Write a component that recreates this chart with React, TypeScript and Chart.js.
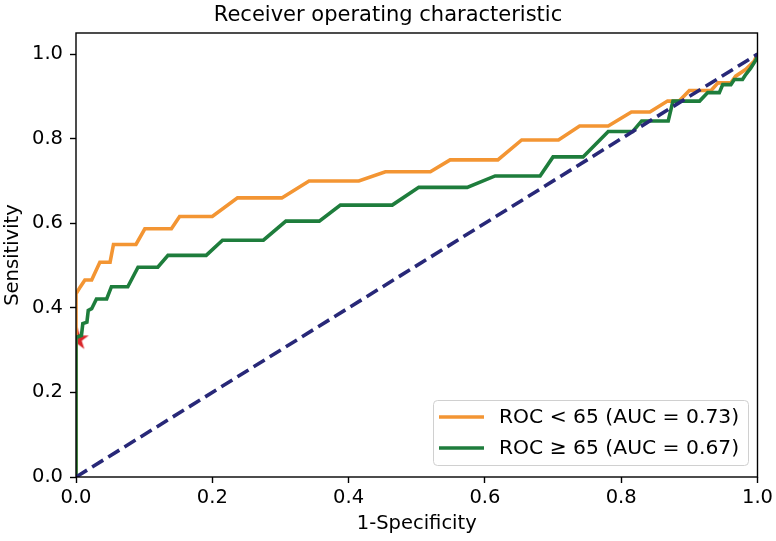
import React, { useEffect, useRef } from "react";
import { Chart, registerables } from "chart.js";

Chart.register(...registerables);

const TITLE = "Receiver operating characteristic";
const X_LABEL = "1-Specificity";
const Y_LABEL = "Sensitivity";
const X_TICKS = [0, 0.2, 0.4, 0.6, 0.8, 1.0];
const Y_TICKS = [0, 0.2, 0.4, 0.6, 0.8, 1.0];

const LABEL_UNDER = "ROC < 65 (AUC = 0.73)";
const LABEL_OVER = "ROC \u2265 65 (AUC = 0.67)";

const underX = [0, 0, 0.006, 0.013, 0.023, 0.035, 0.05, 0.055, 0.088, 0.101, 0.14, 0.152, 0.2, 0.237, 0.302, 0.342, 0.415, 0.454, 0.52, 0.549, 0.619, 0.654, 0.708, 0.739, 0.781, 0.815, 0.842, 0.868, 0.885, 0.9, 0.932, 0.942, 0.961, 0.968, 0.983, 0.995, 1];
const underY = [0, 0.433, 0.449, 0.466, 0.466, 0.508, 0.508, 0.55, 0.55, 0.587, 0.587, 0.616, 0.616, 0.66, 0.66, 0.7, 0.7, 0.722, 0.722, 0.75, 0.75, 0.797, 0.797, 0.83, 0.83, 0.863, 0.863, 0.889, 0.889, 0.914, 0.914, 0.932, 0.932, 0.948, 0.964, 0.983, 1];

const overX = [0, 0, 0.008, 0.01, 0.016, 0.018, 0.023, 0.03, 0.045, 0.052, 0.076, 0.091, 0.12, 0.135, 0.191, 0.215, 0.275, 0.308, 0.357, 0.388, 0.464, 0.503, 0.574, 0.615, 0.681, 0.7, 0.744, 0.781, 0.817, 0.83, 0.869, 0.876, 0.915, 0.927, 0.944, 0.949, 0.961, 0.966, 0.978, 0.982, 0.99, 0.998, 1];
const overY = [0, 0.33, 0.335, 0.363, 0.366, 0.394, 0.398, 0.421, 0.421, 0.45, 0.45, 0.496, 0.496, 0.524, 0.524, 0.56, 0.56, 0.605, 0.605, 0.643, 0.643, 0.685, 0.685, 0.712, 0.712, 0.757, 0.757, 0.817, 0.817, 0.842, 0.842, 0.889, 0.889, 0.909, 0.909, 0.928, 0.928, 0.94, 0.94, 0.95, 0.967, 0.987, 1];

const chanceX = [0, 1];
const chanceY = [0, 1];

const starX = [0.002];
const starY = [0.328];

const ORANGE = "#f39533";
const GREEN = "#1e7d3c";
const NAVY = "#282878";
const RED = "#d9262a";
const FONT = "'DejaVu Sans', sans-serif";

const zip = (xs: number[], ys: number[]) => xs.map((x, i) => ({ x, y: ys[i] }));

function makeStar(): HTMLCanvasElement {
  const c = document.createElement("canvas");
  c.width = 28;
  c.height = 28;
  const g = c.getContext("2d")!;
  const R = 12;
  const r = R * 0.382;
  g.beginPath();
  for (let i = 0; i < 10; i++) {
    const rad = i % 2 === 0 ? R : r;
    const a = -Math.PI / 2 + (i * Math.PI) / 5;
    const px = 14 + rad * Math.cos(a);
    const py = 14 + rad * Math.sin(a) + 1;
    if (i === 0) g.moveTo(px, py);
    else g.lineTo(px, py);
  }
  g.closePath();
  g.fillStyle = RED;
  g.fill();
  return c;
}

const decor = {
  id: "decor",
  afterDatasetsDraw(chart: any) {
    const { ctx, chartArea: a } = chart;
    ctx.save();
    // frame
    ctx.strokeStyle = "#000";
    ctx.lineWidth = 1.4;
    ctx.strokeRect(a.left, a.top, a.right - a.left, a.bottom - a.top);
    // legend
    const bx = 433.5, by = 400.5, bw = 315, bh = 65, rr = 4;
    ctx.beginPath();
    ctx.moveTo(bx + rr, by);
    ctx.lineTo(bx + bw - rr, by);
    ctx.quadraticCurveTo(bx + bw, by, bx + bw, by + rr);
    ctx.lineTo(bx + bw, by + bh - rr);
    ctx.quadraticCurveTo(bx + bw, by + bh, bx + bw - rr, by + bh);
    ctx.lineTo(bx + rr, by + bh);
    ctx.quadraticCurveTo(bx, by + bh, bx, by + bh - rr);
    ctx.lineTo(bx, by + rr);
    ctx.quadraticCurveTo(bx, by, bx + rr, by);
    ctx.closePath();
    ctx.fillStyle = "rgba(255,255,255,0.8)";
    ctx.fill();
    ctx.strokeStyle = "#d0d0d0";
    ctx.lineWidth = 1;
    ctx.stroke();
    const items = [
      { c: ORANGE, t: LABEL_UNDER, y: 417 },
      { c: GREEN, t: LABEL_OVER, y: 448 },
    ];
    ctx.font = `20.3px ${FONT}`;
    ctx.textBaseline = "middle";
    ctx.textAlign = "left";
    for (const it of items) {
      ctx.strokeStyle = it.c;
      ctx.lineWidth = 3.6;
      ctx.beginPath();
      ctx.moveTo(439, it.y);
      ctx.lineTo(484, it.y);
      ctx.stroke();
      ctx.fillStyle = "#000";
      ctx.fillText(it.t, 499, it.y + 1);
    }
    // title & axis labels
    const cx = (a.left + a.right) / 2;
    ctx.fillStyle = "#000";
    ctx.textAlign = "center";
    ctx.font = `21px ${FONT}`;
    ctx.fillText(TITLE, 388, 16);
    ctx.font = `19.5px ${FONT}`;
    ctx.fillText(X_LABEL, cx, 524);
    ctx.translate(13, (a.top + a.bottom) / 2);
    ctx.rotate(-Math.PI / 2);
    ctx.fillText(Y_LABEL, 0, 0);
    ctx.restore();
  },
};

export default function App() {
  const ref = useRef<HTMLCanvasElement>(null);
  useEffect(() => {
    const star = makeStar();
    const chart = new Chart(ref.current!, {
      type: "scatter",
      data: {
        datasets: [
          {
            label: "star",
            data: zip(starX, starY),
            pointStyle: star as any,
            pointRadius: 13,
            showLine: false,
            clip: 0 as any,
            order: 4,
          },
          {
            label: LABEL_UNDER,
            data: zip(underX, underY),
            showLine: true,
            borderColor: ORANGE,
            borderWidth: 3.6,
            pointRadius: 0,
            clip: 0 as any,
            order: 3,
          },
          {
            label: LABEL_OVER,
            data: zip(overX, overY),
            showLine: true,
            borderColor: GREEN,
            borderWidth: 3.6,
            pointRadius: 0,
            clip: 0 as any,
            order: 2,
          },
          {
            label: "chance",
            data: zip(chanceX, chanceY),
            showLine: true,
            borderColor: NAVY,
            borderWidth: 3.6,
            borderDash: [13, 6],
            pointRadius: 0,
            clip: 0 as any,
            order: 1,
          },
        ],
      },
      options: {
        animation: false,
        responsive: false,
        devicePixelRatio: 1,
        layout: { padding: { top: 33, right: 16, left: 0, bottom: 0 } },
        plugins: {
          legend: { display: false },
          title: { display: false },
          tooltip: { enabled: false },
        },
        scales: {
          x: {
            type: "linear",
            min: 0,
            max: 1,
            afterFit: (s: any) => {
              s.height = 64;
            },
            afterBuildTicks: (s: any) => {
              s.ticks = X_TICKS.map((v) => ({ value: v }));
            },
            border: { display: false },
            grid: {
              drawOnChartArea: false,
              drawTicks: true,
              tickLength: 6,
              tickColor: "#000",
              tickWidth: 1.4,
            },
            ticks: {
              color: "#000",
              font: { family: FONT, size: 19.5 },
              padding: 3,
              maxRotation: 0,
              callback: (v: any) => Number(v).toFixed(1),
            },
          },
          y: {
            type: "linear",
            min: 0,
            max: 1.05,
            afterFit: (s: any) => {
              s.width = 76;
            },
            afterBuildTicks: (s: any) => {
              s.ticks = Y_TICKS.map((v) => ({ value: v }));
            },
            border: { display: false },
            grid: {
              drawOnChartArea: false,
              drawTicks: true,
              tickLength: 6,
              tickColor: "#000",
              tickWidth: 1.4,
            },
            ticks: {
              color: "#000",
              font: { family: FONT, size: 19.5 },
              padding: 7,
              callback: (v: any) => Number(v).toFixed(1),
            },
          },
        },
      },
      plugins: [decor],
    });
    return () => chart.destroy();
  }, []);
  return (
    <div style={{ position: "fixed", left: 0, top: 0, width: 776, height: 541, background: "#fff" }}>
      <canvas ref={ref} width={776} height={541} style={{ display: "block" }} />
    </div>
  );
}
